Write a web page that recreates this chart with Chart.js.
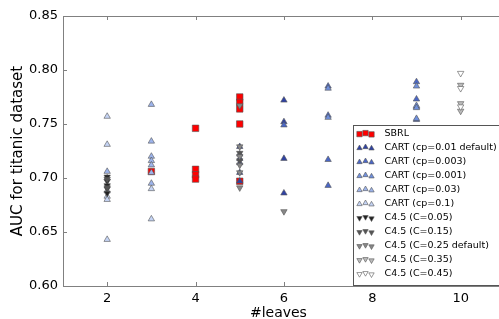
<!DOCTYPE html>
<html>
<head>
<meta charset="utf-8">
<script src="https://cdn.jsdelivr.net/npm/chart.js@4/dist/chart.umd.min.js"></script>
<style>
  html, body { margin: 0; padding: 0; background: #fff; }
  #wrap { width: 499px; height: 319px; }
</style>
</head>
<body>
<div id="wrap"><canvas id="chart"></canvas></div>
<script>
// [#leaves, AUC] points per model
const sbrl = [[3,0.706],[4,0.746],[4,0.708],[4,0.703],[4,0.699],[5,0.775],[5,0.770],[5,0.764],[5,0.750],[5,0.697]];
const cart001 = [[5,0.729],[5,0.722],[5,0.718],[5,0.714],[5,0.705],[5,0.697],[6,0.772],[6,0.752],[6,0.718],[6,0.686]];
const cart0003 = [[6,0.749],[7,0.785],[7,0.758],[7,0.717],[7,0.693],[9,0.789],[9,0.773],[9,0.766],[9,0.754]];
const cart0001 = [[7,0.783],[7,0.756],[9,0.785],[9,0.767],[9,0.765],[9,0.755]];
const cart003 = [[3,0.768],[3,0.734],[3,0.720],[3,0.716],[3,0.712],[3,0.705],[3,0.695],[2,0.706]];
const cart01 = [[2,0.757],[2,0.731],[2,0.700],[2,0.688],[2,0.683],[2,0.680],[2,0.643],[3,0.690],[3,0.662]];
const c45_005 = [[2,0.701],[2,0.697],[2,0.693],[2,0.690],[2,0.686]];
const c45_015 = [[2,0.699],[2,0.691],[5,0.723],[5,0.716]];
const c45_025 = [[5,0.767],[5,0.729],[5,0.720],[5,0.712],[5,0.705],[5,0.691],[6,0.669]];
const c45_035 = [[10,0.786],[10,0.769],[10,0.762]];
const c45_045 = [[10,0.797],[10,0.783],[10,0.766]];

const xTicks = [2, 4, 6, 8, 10];
const yTicks = [0.60, 0.65, 0.70, 0.75, 0.80, 0.85];

const series = [
  { label: "SBRL", data: sbrl, color: "#ff0000", shape: "rect" },
  { label: "CART (cp=0.01 default)", data: cart001, color: "#2f42a3", shape: "up" },
  { label: "CART (cp=0.003)", data: cart0003, color: "#4b67c6", shape: "up" },
  { label: "CART (cp=0.001)", data: cart0001, color: "#7090dc", shape: "up" },
  { label: "CART (cp=0.03)", data: cart003, color: "#9db4ec", shape: "up" },
  { label: "CART (cp=0.1)", data: cart01, color: "#c5d4f5", shape: "up" },
  { label: "C4.5 (C=0.05)", data: c45_005, color: "#222222", shape: "down" },
  { label: "C4.5 (C=0.15)", data: c45_015, color: "#555555", shape: "down" },
  { label: "C4.5 (C=0.25 default)", data: c45_025, color: "#888888", shape: "down" },
  { label: "C4.5 (C=0.35)", data: c45_035, color: "#bbbbbb", shape: "down" },
  { label: "C4.5 (C=0.45)", data: c45_045, color: "#ffffff", shape: "down" }
];

function markerOpts(s, r) {
  return {
    pointStyle: s.shape === "rect" ? "rect" : "triangle",
    rotation: s.shape === "down" ? 180 : 0,
    radius: r,
    borderWidth: 0.6
  };
}

const frame = {
  id: "frame",
  afterDatasetsDraw(chart) {
    const { ctx, chartArea: a, scales } = chart;
    ctx.save();
    ctx.strokeStyle = "#808080";
    ctx.lineWidth = 1;
    ctx.strokeRect(a.left + 0.5, a.top + 0.5, a.right - a.left + 10, a.bottom - a.top);
    ctx.beginPath();
    xTicks.forEach(v => {
      const x = Math.round(scales.x.getPixelForValue(v)) + 0.5;
      ctx.moveTo(x, a.bottom); ctx.lineTo(x, a.bottom - 4);
      ctx.moveTo(x, a.top); ctx.lineTo(x, a.top + 4);
    });
    yTicks.forEach(v => {
      const y = Math.round(scales.y.getPixelForValue(v)) + 0.5;
      ctx.moveTo(a.left, y); ctx.lineTo(a.left + 4, y);
    });
    ctx.stroke();

    // legend box, lower right like matplotlib
    const bx = 353.5, by = 125.5;
    ctx.fillStyle = "#fff";
    ctx.fillRect(bx, by, 160, 160);
    ctx.strokeStyle = "#555";
    ctx.strokeRect(bx, by, 160, 160);
    ctx.font = "9.5px 'DejaVu Sans'";
    ctx.textBaseline = "middle";
    const offs = [0.6, -0.4, 0.9];
    series.forEach((s, i) => {
      const y = by + 8 + i * 14;
      [0, 1, 2].forEach(k => {
        const o = markerOpts(s, s.shape === "rect" ? 3.8 : 3.1);
        ctx.fillStyle = s.color;
        ctx.strokeStyle = "#555";
        ctx.lineWidth = 0.6;
        Chart.helpers.drawPoint(ctx, o, bx + 6 + k * 6, y + offs[k]);
      });
      ctx.fillStyle = "#000";
      ctx.fillText(s.label, bx + 31, y);
    });
    ctx.restore();
  }
};

new Chart(document.getElementById("chart"), {
  type: "scatter",
  data: {
    datasets: series.map((s, i) => ({
      label: s.label,
      data: s.data.map(p => ({ x: p[0], y: p[1] })),
      order: series.length - i,
      backgroundColor: s.color,
      borderColor: "#555",
      borderWidth: 0.6,
      pointStyle: s.shape === "rect" ? "rect" : "triangle",
      rotation: s.shape === "down" ? 180 : 0,
      pointRadius: s.shape === "rect" ? 4.6 : 3.7
    }))
  },
  options: {
    responsive: true,
    maintainAspectRatio: false,
    animation: false,
    layout: { padding: { top: 16, right: 0, left: 0, bottom: 0 } },
    plugins: { legend: { display: false }, tooltip: { enabled: false } },
    scales: {
      x: {
        type: "linear", min: 1, max: 10.75,
        afterBuildTicks: (s) => { s.ticks = xTicks.map(v => ({ value: v })); },
        afterFit: (s) => { s.height = 33; },
        grid: { display: false, drawTicks: false },
        border: { display: false },
        ticks: { color: "#000", padding: 5, font: { family: "DejaVu Sans", size: 13 } },
        title: { display: true, text: "#leaves", color: "#000", padding: { top: 0, bottom: -3 }, font: { family: "DejaVu Sans", size: 14 } }
      },
      y: {
        min: 0.60, max: 0.85,
        afterBuildTicks: (s) => { s.ticks = yTicks.map(v => ({ value: v })); },
        afterFit: (s) => { s.width = 63; },
        grid: { display: false, drawTicks: false },
        border: { display: false },
        ticks: { color: "#000", padding: 5, font: { family: "DejaVu Sans", size: 13 }, callback: (v) => v.toFixed(2) },
        title: { display: true, text: "AUC for titanic dataset", color: "#000", padding: { top: 9, bottom: 0 }, font: { family: "DejaVu Sans", size: 15 } }
      }
    }
  },
  plugins: [frame]
});
</script>
</body>
</html>
